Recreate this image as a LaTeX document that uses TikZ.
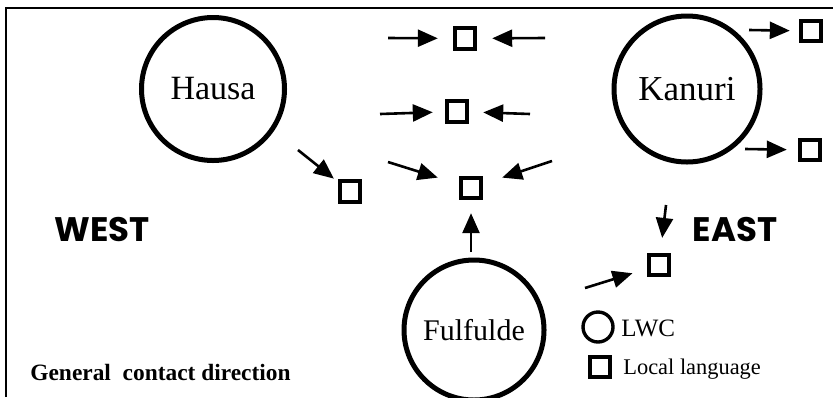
\documentclass[tikz,border=0pt]{standalone}
\usepackage{fontspec}
\setmainfont{Liberation Serif}
\newfontfamily\comic{Poppins}
\usetikzlibrary{arrows.meta}
\begin{document}
\begin{tikzpicture}[x=0.5pt,y=-0.5pt,
 lwc/.style={draw,circle,line width=2.5pt,inner sep=0pt},
 loc/.style={draw,rectangle,line width=2pt,minimum size=10.2pt,inner sep=0pt},
 arr/.style={line width=1.3pt,-{Triangle[length=10pt,width=8.5pt]}},
 dir/.style={font=\comic\bfseries\fontsize{17}{20}\selectfont,inner sep=0pt}]
\useasboundingbox (0,0) rectangle (833,397);
\draw[line width=0.75pt] (6,397) -- (6,8) -- (833,8);
% languages of wider communication
\node[lwc,minimum size=71.5pt,font=\fontsize{17}{20}\selectfont] (hausa) at (213,89) {Hausa};
\node[lwc,minimum size=73pt,font=\fontsize{17.5}{20}\selectfont] (kanuri) at (687,89) {Kanuri};
\node[lwc,minimum size=70pt,font=\fontsize{15}{18}\selectfont] (fulfulde) at (474,330) {Fulfulde};
% local languages
\node[loc] (s1) at (465,38.5) {};
\node[loc] (s2) at (457,111.5) {};
\node[loc] (s3) at (471,188) {};
\node[loc] (s4) at (350,191.5) {};
\node[loc] (s5) at (811,31) {};
\node[loc] (s6) at (810,150) {};
\node[loc] (s7) at (659,265) {};
% arrow tails
\coordinate (t1a) at (388,38);
\coordinate (t1b) at (545,38);
\coordinate (t2a) at (380,114);
\coordinate (t2b) at (530,114);
\coordinate (t3a) at (388,162);
\coordinate (t3b) at (552,161);
\coordinate (t4) at (298,150);
\coordinate (t5) at (749,30);
\coordinate (t6) at (745,149);
\coordinate (t7a) at (666,205);
\coordinate (t7b) at (585,288);
\coordinate (t8) at (471,252);
\draw[arr,shorten >=7.5pt] (t1a) -- (s1);
\draw[arr,shorten >=7.5pt] (t1b) -- (s1);
\draw[arr,shorten >=6pt] (t2a) -- (s2);
\draw[arr,shorten >=7pt] (t2b) -- (s2);
\draw[arr,shorten >=11pt] (t3a) -- (s3);
\draw[arr,shorten >=10pt] (t3b) -- (s3);
\draw[arr,shorten >=2.5pt] (t4) -- (s4);
\draw[arr,shorten >=4.5pt] (t5) -- (s5);
\draw[arr,shorten >=5.5pt] (t6) -- (s6);
\draw[arr,shorten >=7.5pt] (t7a) -- (s7);
\draw[arr,shorten >=7.5pt] (t7b) -- (s7);
\draw[arr,shorten >=6.5pt] (t8) -- (s3);
% labels
\node[dir] (west) at (102,230) {WEST};
\node[dir] (east) at (735,230) {EAST};
\node[anchor=west,inner sep=0pt,font=\bfseries\fontsize{11.7}{14}\selectfont] (gcd) at (30,372) {General\ \ contact direction};
% legend
\node[draw,circle,line width=1.7pt,minimum size=15pt,inner sep=0pt] (legc) at (598,327) {};
\node[anchor=west,inner sep=0pt,font=\fontsize{12.5}{15}\selectfont] (legct) at (621,328) {LWC};
\node[loc] (legs) at (600,367) {};
\node[anchor=west,inner sep=0pt,font=\fontsize{11.2}{13}\selectfont] (legst) at (623,369) {Local language};
\end{tikzpicture}
\end{document}
